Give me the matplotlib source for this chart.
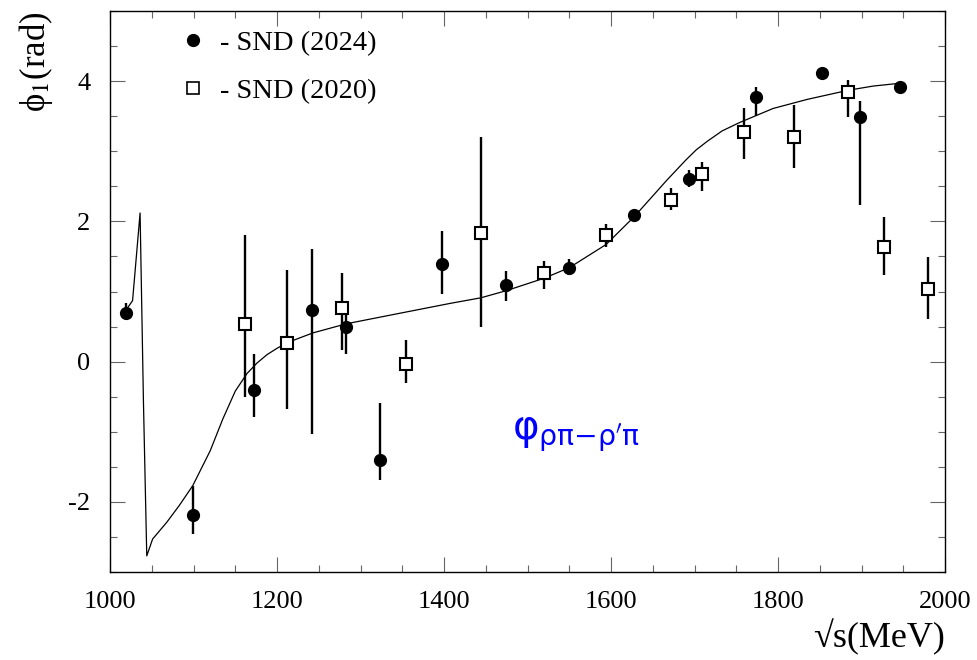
import matplotlib
matplotlib.use('Agg')
import matplotlib.pyplot as plt
from matplotlib.lines import Line2D
from matplotlib.ticker import MultipleLocator
import numpy as np

# SND (2024) points: energy, phase, upper and lower end of the error bar
x24 = [1019, 1099, 1172, 1242, 1283, 1323, 1398, 1474, 1550, 1628, 1693, 1774, 1853, 1898, 1946]
y24 = [0.70, -2.19, -0.41, 0.73, 0.49, -1.40, 1.39, 1.09, 1.34, 2.09, 2.61, 3.77, 4.11, 3.49, 3.91]
hi24 = [0.83, -1.77, 0.11, 1.60, 0.77, -0.59, 1.86, 1.29, 1.46, 2.14, 2.73, 3.91, 4.16, 3.71, 3.95]
lo24 = [0.59, -2.46, -0.79, -1.03, 0.11, -1.69, 0.97, 0.87, 1.23, 2.04, 2.49, 3.51, 4.05, 2.23, 3.87]

# SND (2020) points
x20 = [1162, 1212, 1278, 1354, 1444, 1520, 1594, 1672, 1709, 1759, 1819, 1884, 1927, 1980]
y20 = [0.54, 0.27, 0.77, -0.04, 1.84, 1.26, 1.80, 2.31, 2.67, 3.27, 3.21, 3.84, 1.63, 1.04]
hi20 = [1.81, 1.31, 1.26, 0.31, 3.20, 1.43, 1.96, 2.47, 2.84, 3.61, 3.66, 4.01, 2.06, 1.49]
lo20 = [-0.51, -0.67, 0.16, -0.31, 0.49, 1.04, 1.63, 2.16, 2.43, 2.89, 2.76, 3.49, 1.23, 0.61]

# fit curve
fit_x = [1020, 1027, 1036, 1040, 1044, 1051, 1068, 1083, 1099, 1120, 1135, 1150, 1164, 1176,
         1188, 1200, 1212, 1243, 1283, 1347, 1407, 1444, 1474, 1520, 1550, 1594, 1628, 1667,
         1690, 1702, 1715, 1733, 1754, 1794, 1835, 1884, 1914, 1946]
fit_y = [0.75, 0.87, 2.12, -0.56, -2.77, -2.53, -2.29, -2.05, -1.77, -1.27, -0.82, -0.42, -0.17, -0.02,
         0.10, 0.19, 0.27, 0.41, 0.54, 0.69, 0.83, 0.91, 1.01, 1.19, 1.34, 1.67, 2.07, 2.59,
         2.88, 3.02, 3.14, 3.29, 3.41, 3.61, 3.74, 3.87, 3.93, 3.97]

plt.rcParams['font.family'] = ['Liberation Serif', 'DejaVu Serif']
plt.rcParams['mathtext.fontset'] = 'stix'

fig = plt.figure(figsize=(9.78, 6.6), dpi=100)
ax = fig.add_axes([0.1125, 0.1333, 0.8538, 0.85])

ax.plot(fit_x, fit_y, color='black', lw=0.9, zorder=2)

y24a = np.array(y24)
ax.errorbar(x24, y24, yerr=[y24a - np.array(lo24), np.array(hi24) - y24a],
            fmt='o', color='black', ms=8.5, elinewidth=1.7, capsize=0, zorder=3)
y20a = np.array(y20)
ax.errorbar(x20, y20, yerr=[y20a - np.array(lo20), np.array(hi20) - y20a],
            fmt='s', mfc='white', mec='black', ecolor='black', ms=8.5, mew=1.5,
            elinewidth=1.7, capsize=0, zorder=3)

ax.set_xlim(1000, 2000)
ax.set_ylim(-3, 5)
ax.xaxis.set_minor_locator(MultipleLocator(50))
ax.yaxis.set_minor_locator(MultipleLocator(0.5))
ax.set_xticks([1000, 1200, 1400, 1600, 1800, 2000])
ax.set_xticklabels(['1000', '1200', '1400', '1600', '1800', '2000'])
ax.set_yticks([-2, 0, 2, 4])
ax.set_yticklabels(['-2', '0', '2', '4'])
ax.tick_params(which='both', direction='in', top=True, right=True, color='#666666', width=0.8)
ax.tick_params(which='major', length=11, labelsize=19, pad=14)
ax.tick_params(which='minor', length=5)
for s in ax.spines.values():
    s.set_linewidth(1.0)

ax.set_xlabel('√s(MeV)', fontsize=26, loc='right', labelpad=4)
ax.set_ylabel('ϕ$_1$(rad)', fontsize=25, loc='top', labelpad=10)

handles = [Line2D([], [], marker='o', ls='none', color='black', ms=8.5),
           Line2D([], [], marker='s', ls='none', mfc='white', mec='black', ms=8.5, mew=1.2)]
ax.legend(handles, ['- SND (2024)', '- SND (2020)'], loc='upper left',
          bbox_to_anchor=(0.053, 1.012), frameon=False, fontsize=20.5,
          handlelength=0.9, handletextpad=0.5, labelspacing=0.78)

ax.text(1481, -1.11, r'$\mathrm{\varphi}_{\mathrm{\rho\pi{-}\rho^{\prime}\pi}}$', color='blue',
        fontsize=29, math_fontfamily='dejavusans')

fig.savefig('out.png', dpi=100)
